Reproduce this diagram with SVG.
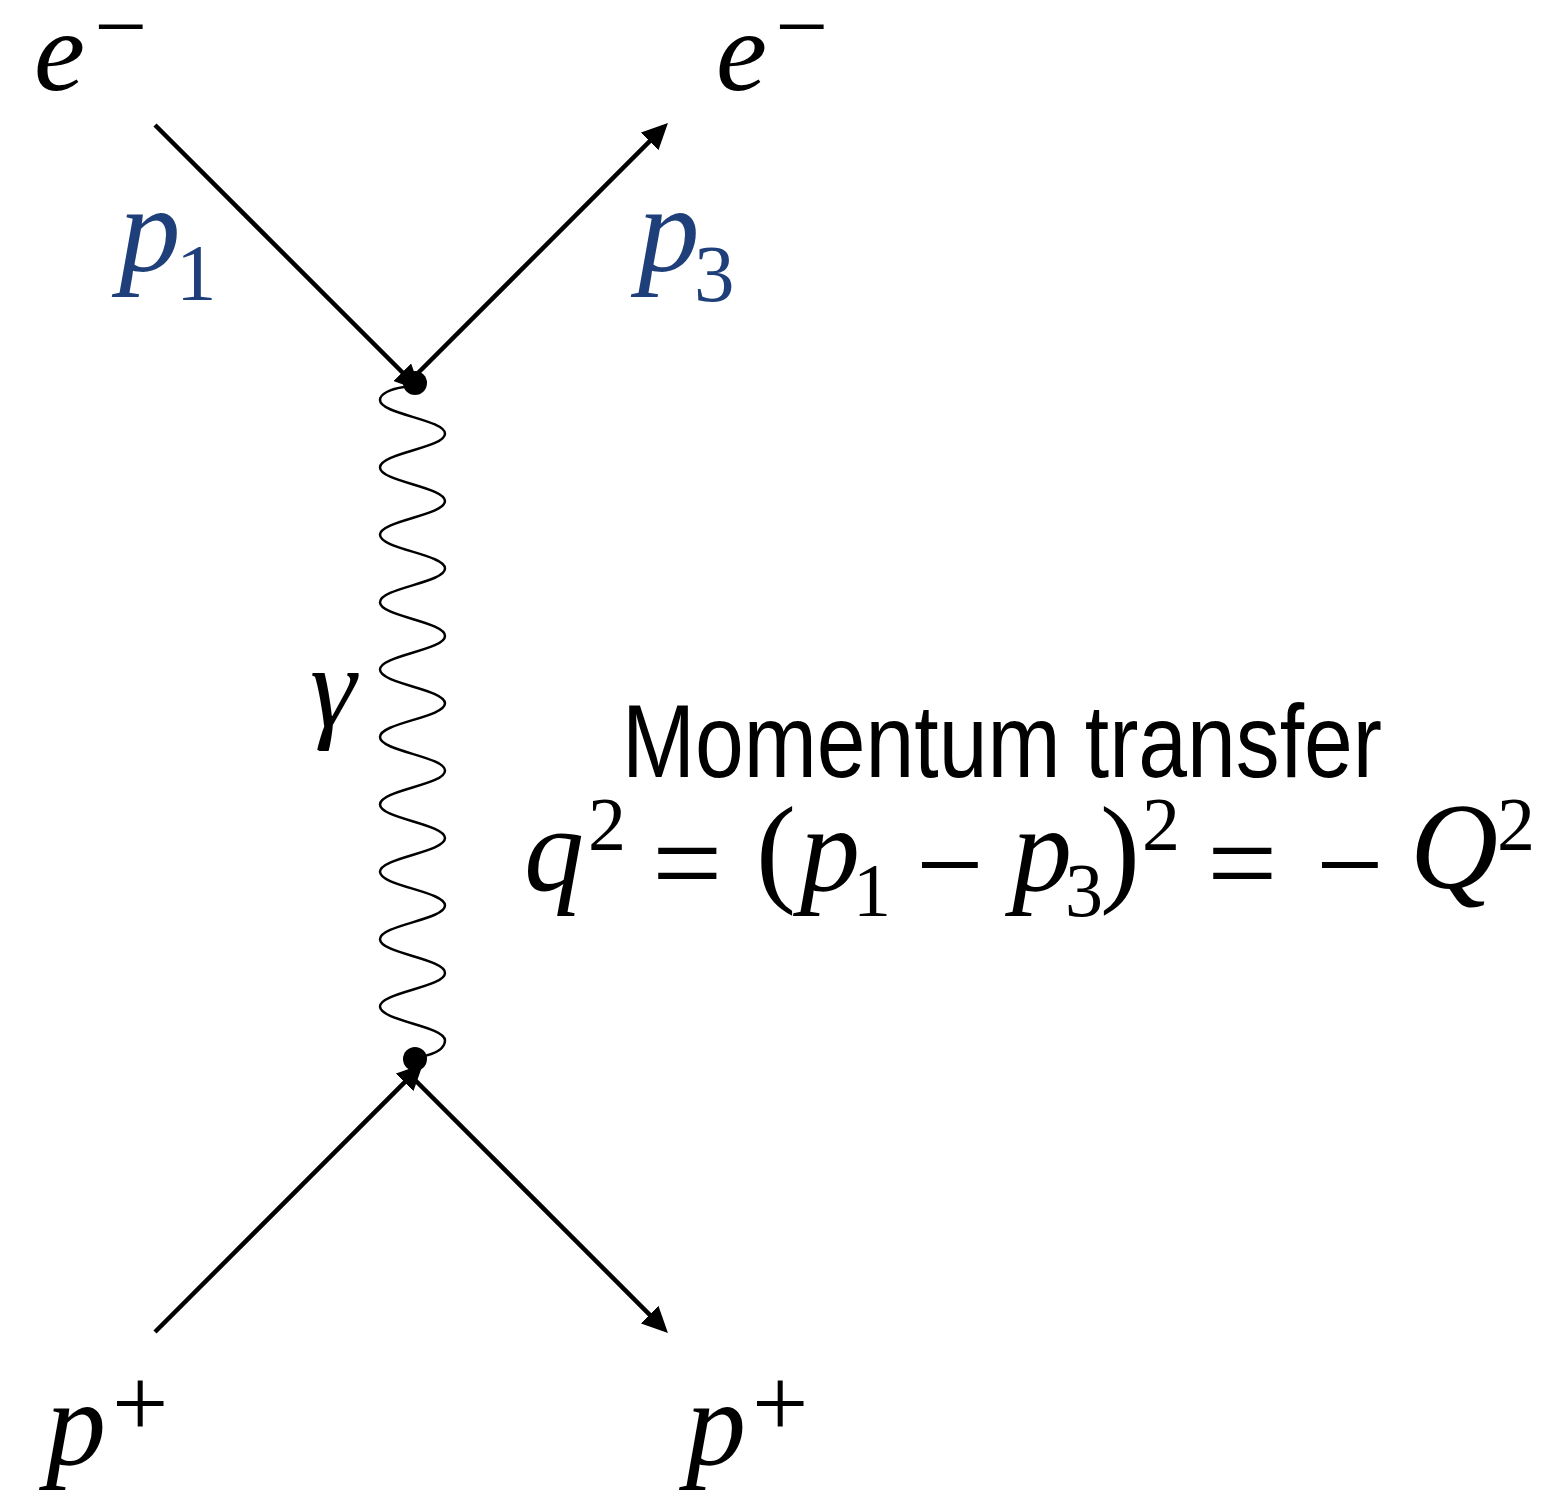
<svg xmlns="http://www.w3.org/2000/svg" width="1546" height="1493" viewBox="0 0 1546 1493">
<style>
.t{font-family:"Liberation Serif","Times New Roman",serif;fill:#000}
.i{font-style:italic}
.b{fill:#1F3F7A}
.sans{font-family:"Liberation Sans",Arial,sans-serif;fill:#000}
.fer{stroke:#000;stroke-width:4.5;fill:none}
.ph{stroke:#000;stroke-width:2.5;fill:none}
</style>
<defs>
<marker id="ah" viewBox="0 0 26 25" markerWidth="26" markerHeight="25" refX="18" refY="12.5" orient="auto" markerUnits="userSpaceOnUse">
<path d="M0,0 L26,12.5 L0,25 z" fill="#000"/>
</marker>
</defs>
<rect width="1546" height="1493" fill="#fff"/>
<g id="connectors">
<line class="fer" x1="155" y1="125" x2="415" y2="385" marker-end="url(#ah)"/>
<line class="fer" x1="412" y1="379" x2="662.3" y2="128.7" marker-end="url(#ah)"/>
<line class="fer" x1="155" y1="1332" x2="417.3" y2="1069.7" marker-end="url(#ah)"/>
<line class="fer" x1="412" y1="1077" x2="662.3" y2="1327.3" marker-end="url(#ah)"/>
<path id="photon" class="ph" d="M404,387 C390,389 380,394 380,400 c0,14.2 65,19.5 65,33.7 c0,14.2 -65,19.5 -65,33.7 c0,14.2 65,19.5 65,33.7 c0,14.2 -65,19.5 -65,33.7 c0,14.2 65,19.5 65,33.7 c0,14.2 -65,19.5 -65,33.7 c0,14.2 65,19.5 65,33.7 c0,14.2 -65,19.5 -65,33.7 c0,14.2 65,19.5 65,33.7 c0,14.2 -65,19.5 -65,33.7 c0,14.2 65,19.5 65,33.7 c0,14.2 -65,19.5 -65,33.7 c0,14.2 65,19.5 65,33.7 c0,14.2 -65,19.5 -65,33.7 c0,14.2 65,19.5 65,33.7 c0,14.2 -65,19.5 -65,33.7 c0,14.2 65,19.5 65,33.7 c0,14.2 -65,19.5 -65,33.7 c0,14.2 65,19.5 65,33.7 C445,1048 436,1054 420,1057"/>
</g>
<g id="vertex-top"><circle cx="415" cy="383" r="12" fill="#000"/></g>
<g id="vertex-bottom"><circle cx="415" cy="1059" r="12" fill="#000"/></g>
<g id="label-e-in">
<text class="t i" x="34" y="90" font-size="115">e</text>
<text class="t" x="94" y="58" font-size="94">−</text>
</g>
<g id="label-e-out">
<text class="t i" x="716" y="90" font-size="115">e</text>
<text class="t" x="775" y="58" font-size="94">−</text>
</g>
<g id="label-p1">
<text class="t i b" x="119" y="271" font-size="123">p</text>
<text class="t b" x="176" y="300" font-size="81">1</text>
</g>
<g id="label-p3">
<text class="t i b" x="638" y="271" font-size="123">p</text>
<text class="t b" x="694" y="301" font-size="81">3</text>
</g>
<g id="label-gamma">
<text class="t i" x="310" y="726" font-size="117">γ</text>
</g>
<g id="label-p-in">
<text class="t i" x="46" y="1464" font-size="120">p</text>
<text class="t" x="112" y="1437" font-size="100">+</text>
</g>
<g id="label-p-out">
<text class="t i" x="686" y="1464" font-size="120">p</text>
<text class="t" x="752" y="1437" font-size="100">+</text>
</g>
<g id="annotation">
<text class="sans" x="622" y="777" font-size="103" textLength="760" lengthAdjust="spacingAndGlyphs">Momentum transfer</text>
<text class="t i" x="524" y="890" font-size="120">q</text>
<text class="t" x="588" y="850" font-size="76">2</text>
<text class="t" x="652" y="905" font-size="125">=</text>
<text class="t" x="756" y="890" font-size="120">(</text>
<text class="t i" x="800" y="890" font-size="120">p</text>
<text class="t" x="853" y="916" font-size="76">1</text>
<text class="t" x="916" y="905" font-size="120">−</text>
<text class="t i" x="1012" y="890" font-size="120">p</text>
<text class="t" x="1065" y="916" font-size="76">3</text>
<text class="t" x="1100" y="890" font-size="120">)</text>
<text class="t" x="1142" y="850" font-size="76">2</text>
<text class="t" x="1207" y="905" font-size="125">=</text>
<text class="t" x="1316" y="905" font-size="120">−</text>
<text class="t i" x="1410" y="888" font-size="122">Q</text>
<text class="t" x="1497" y="850" font-size="76">2</text>
</g>
</svg>
